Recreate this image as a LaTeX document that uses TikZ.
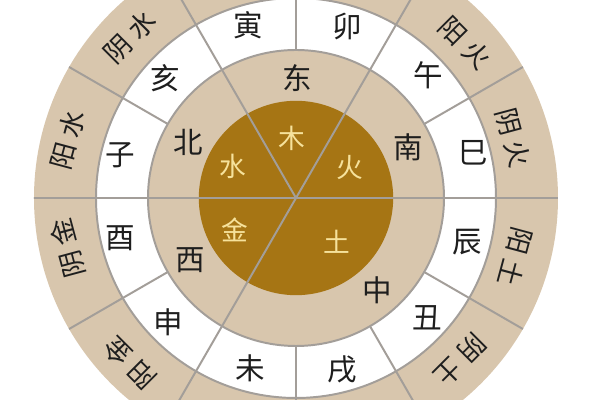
\documentclass[tikz,border=0pt]{standalone}
\usepackage{fontspec}
\setmainfont{Noto Sans CJK SC}
\definecolor{ringtan}{HTML}{D8C6AD}
\definecolor{core}{HTML}{A67514}
\definecolor{coretext}{HTML}{F6E29C}
\definecolor{spoke}{HTML}{A39E99}
\definecolor{ink}{HTML}{1E1E1E}

\begin{document}
\begin{tikzpicture}[
        spokeline/.style={draw=spoke, line width=1.4pt},
        element/.style={text=coretext, font=\fontsize{19}{19}\selectfont},
        direction/.style={text=ink, font=\fontsize{21}{21}\selectfont},
        branch/.style={text=ink, font=\fontsize{21}{21}\selectfont},
        polarity/.style={text=ink, font=\fontsize{19}{19}\selectfont, inner sep=0pt}]
        \useasboundingbox (-7.4, -5.05) rectangle (7.6, 4.95);
        \clip (-7.4, -5.05) rectangle (7.6, 4.95);

        \fill[ringtan] (0, 0) circle (6.55);
        \fill[white] (0, 0) circle (5);
        \fill[ringtan] (0, 0) circle (3.7);
        \fill[core] (0, 0) circle (2.43);

        \draw[spokeline] (0, 0) circle (5)
            (0, 0) circle (3.7);
        \draw[spokeline] (180:6.55) -- (0:6.55)
            (240:6.55) -- (60:6.55)
            (0, 0) -- (120:6.55);
        \draw[spokeline] (30:3.7) -- (30:6.55)
            (90:3.7) -- (90:6.55)
            (150:3.7) -- (150:6.55)
            (210:3.7) -- (210:6.55)
            (270:3.7) -- (270:6.55)
            (300:3.7) -- (300:6.55)
            (330:3.7) -- (330:6.55);

        \node[element] (mu) at (-0.1, 1.5) {木};
        \node[element] (huo) at (1.35, 0.75) {火};
        \node[element] (tu) at (1.03, -1.1) {土};
        \node[element] (jin) at (-1.53, -0.8) {金};
        \node[element] (shui) at (-1.58, 0.78) {水};

        \node[direction] (dong) at (0.03, 3.0) {东};
        \node[direction] (nan) at (2.8, 1.28) {南};
        \node[direction] (zhong) at (2.03, -2.3) {中};
        \node[direction] (xi) at (-2.65, -1.55) {西};
        \node[direction] (bei) at (-2.7, 1.38) {北};

        \node[branch] (yin) at (-1.2, 4.33) {寅};
        \node[branch] (mao) at (1.28, 4.28) {卯};
        \node[branch] (wu) at (3.3, 3.08) {午};
        \node[branch] (si) at (4.43, 1.13) {巳};
        \node[branch] (chen) at (4.28, -1.1) {辰};
        \node[branch] (chou) at (3.28, -3.0) {丑};
        \node[branch] (xu) at (1.15, -4.3) {戌};
        \node[branch] (wei) at (-1.15, -4.25) {未};
        \node[branch] (shen) at (-3.2, -3.1) {申};
        \node[branch] (you) at (-4.4, -1.0) {酉};
        \node[branch] (zi) at (-4.4, 1.08) {子};
        \node[branch] (hai) at (-3.28, 3.0) {亥};

        \node[polarity, rotate=45] (yinshui) at (-4.15, 4.03) {阴\hspace{0.25em}水};
        \node[polarity, rotate=75] (yangshui) at (-5.7, 1.45) {阳\hspace{0.25em}水};
        \node[polarity, rotate=105] (yinjin) at (-5.7, -1.25) {阴\hspace{0.25em}金};
        \node[polarity, rotate=135] (yangjin) at (-4.15, -4.13) {阳\hspace{0.25em}金};
        \node[polarity, rotate=-45] (yanghuo) at (4.23, 3.88) {阳\hspace{0.25em}火};
        \node[polarity, rotate=-75] (yinhuo) at (5.43, 1.5) {阴\hspace{0.25em}火};
        \node[polarity, rotate=-105] (yangtu) at (5.48, -1.48) {阳\hspace{0.25em}土};
        \node[polarity, rotate=-135] (yintu) at (4.1, -4.05) {阴\hspace{0.25em}土};
    \end{tikzpicture}
\end{document}
